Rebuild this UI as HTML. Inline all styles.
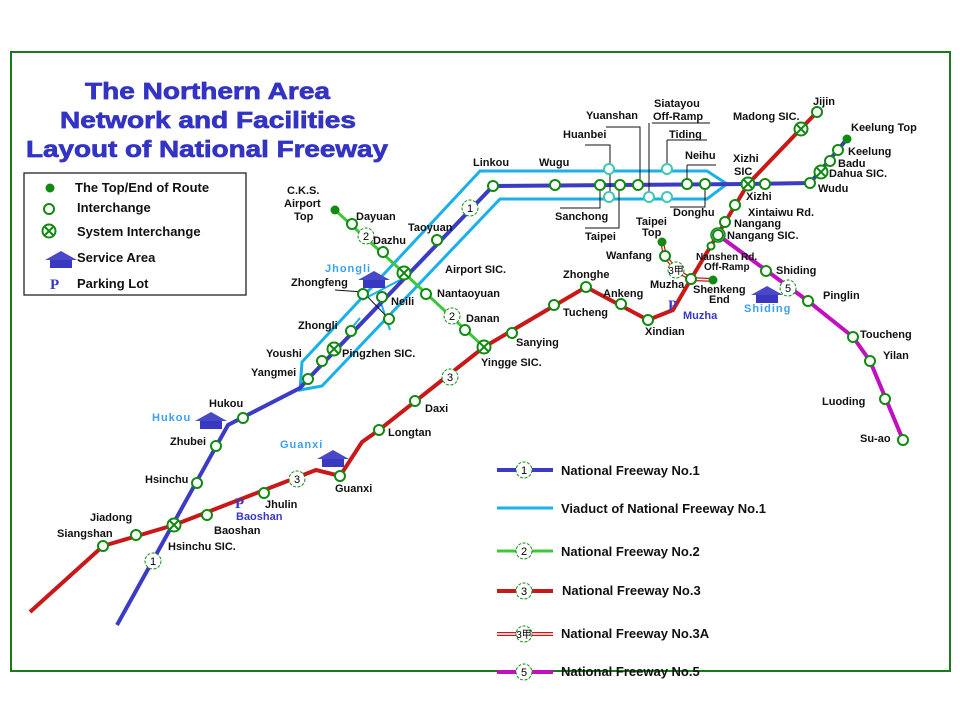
<!DOCTYPE html>
<html><head><meta charset="utf-8"><style>
html,body{margin:0;padding:0;background:#fff;}
svg{display:block;font-family:"Liberation Sans",Arial,sans-serif;}
.l{font-size:11px;font-weight:bold;fill:#111;}
.s{font-size:11px;font-weight:bold;fill:#3aa0f0;letter-spacing:1px;}
.p{font-size:11px;font-weight:bold;fill:#3838c8;}
.t{font-size:23px;font-weight:bold;fill:#3333c4;stroke:#3333c4;stroke-width:0.7;}
.g{font-size:13px;font-weight:bold;fill:#111;}
</style></head><body>
<svg width="960" height="720" viewBox="0 0 960 720" xmlns="http://www.w3.org/2000/svg">
<defs>
<g id="n"><circle r="5" fill="#fff" stroke="#108a10" stroke-width="2"/></g>
<g id="cn"><circle r="5" fill="#fff" stroke="#40c8b0" stroke-width="2"/></g>
<g id="x"><circle r="6.5" fill="#fff" stroke="#108a10" stroke-width="2"/><path d="M-4.5,-4.5L4.5,4.5M4.5,-4.5L-4.5,4.5" stroke="#108a10" stroke-width="2"/></g>
<g id="e"><circle r="4.5" fill="#108a10"/></g>
<g id="sh"><circle r="8" fill="#fff" stroke="#108a10" stroke-width="1" stroke-dasharray="3,1.5"/></g>
<g id="sa"><polygon points="-16,0 0,-9 16,0" fill="#4848c8"/><rect x="-11" y="0" width="22" height="8" fill="#3838c0"/></g>
</defs>
<rect x="11" y="52" width="939" height="619" fill="none" stroke="#1a7a1a" stroke-width="2"/>
<text class="t" x="85" y="99" textLength="245" lengthAdjust="spacingAndGlyphs">The Northern Area</text>
<text class="t" x="60" y="128" textLength="296" lengthAdjust="spacingAndGlyphs">Network and Facilities</text>
<text class="t" x="26" y="157" textLength="362" lengthAdjust="spacingAndGlyphs">Layout of National Freeway</text>

<rect x="24" y="173" width="222" height="122" fill="none" stroke="#111" stroke-width="1.2"/>
<use href="#e" x="50" y="188"/><text class="g" x="75" y="192">The Top/End of Route</text>
<use href="#n" x="49" y="209"/><text class="g" x="77" y="212">Interchange</text>
<use href="#x" x="49" y="231"/><text class="g" x="77" y="236">System Interchange</text>
<use href="#sa" x="61" y="260"/><text class="g" x="77" y="262">Service Area</text>
<text x="50" y="289" font-family="Liberation Serif" font-size="15" font-weight="bold" fill="#3838c8">P</text><text class="g" x="77" y="288">Parking Lot</text>

<polygon points="300,390 302,362 480,171 707,171 727,184 707,199 500,199 322,386" fill="none" stroke="#1ab0e8" stroke-width="3"/>
<path d="M350,330 L360,318 M362,300 L400,280 M380,300 L390,330" stroke="#1ab0e8" stroke-width="2" fill="none"/>
<polyline points="117,625 228,425 300,388 308,379 493,186 748,184 810,183 847,139" fill="none" stroke="#3b3bc4" stroke-width="4"/>
<polyline points="335,210 404,273 484,347" fill="none" stroke="#3cc83c" stroke-width="3"/>
<polyline points="30,612 103,546 174,525 316,470 340,476 362,442 379,430 484,347 586,287 648,320 673,310 691,279 748,184 817,112" fill="none" stroke="#c81818" stroke-width="4"/>
<polyline points="662,242 665,256 676,270 691,279 713,280" fill="none" stroke="#c81818" stroke-width="4"/>
<polyline points="662,242 665,256 676,270 691,279 713,280" fill="none" stroke="#fff" stroke-width="1.5"/>
<polyline points="718,235 808,301 853,337 870,361 903,440" fill="none" stroke="#c010c0" stroke-width="4"/>

<g stroke="#111" stroke-width="1" fill="none">
<path d="M585,145 L610,145 L610,195"/><path d="M606,127 L640,127 L640,183"/><path d="M652,123 L710,123 M649,123 L649,195"/>
<path d="M667,140 L707,140 M667,140 L667,167"/><path d="M687,165 L716,165 M687,165 L687,182"/>
<path d="M600,187 L600,208 L560,208"/><path d="M619,187 L619,228 L585,228"/><path d="M705,186 L705,207 L670,207"/>
<path d="M335,290 L363,292 L389,319"/>
</g>

<use href="#cn" x="609" y="169"/><use href="#cn" x="667" y="169"/>
<use href="#cn" x="609" y="197"/><use href="#cn" x="649" y="197"/><use href="#cn" x="667" y="197"/>
<use href="#n" x="493" y="186"/><use href="#n" x="555" y="185"/><use href="#n" x="600" y="185"/><use href="#n" x="620" y="185"/><use href="#n" x="638" y="185"/><use href="#n" x="687" y="184"/><use href="#n" x="705" y="184"/><use href="#x" x="748" y="184"/><use href="#n" x="765" y="184"/><use href="#n" x="810" y="183"/><use href="#x" x="821" y="172"/><use href="#n" x="830" y="161"/><use href="#n" x="838" y="150"/><use href="#e" x="847" y="139"/>
<use href="#n" x="437" y="240"/><use href="#n" x="382" y="297"/><use href="#n" x="363" y="294"/><use href="#n" x="389" y="319"/><use href="#n" x="351" y="331"/><use href="#x" x="334" y="349"/><use href="#n" x="322" y="361"/><use href="#n" x="308" y="379"/>
<use href="#n" x="243" y="418"/><use href="#n" x="216" y="446"/><use href="#n" x="197" y="483"/><use href="#x" x="174" y="525"/>
<use href="#sh" x="153" y="561"/><text x="153" y="565" font-size="11" text-anchor="middle">1</text>
<use href="#sh" x="470" y="208"/><text x="470" y="212" font-size="11" text-anchor="middle">1</text>
<use href="#e" x="335" y="210"/><use href="#n" x="352" y="224"/><use href="#sh" x="366" y="236"/><text x="366" y="240" font-size="11" text-anchor="middle">2</text><use href="#n" x="383" y="252"/><use href="#x" x="404" y="273"/><use href="#n" x="426" y="294"/><use href="#sh" x="452" y="316"/><text x="452" y="320" font-size="11" text-anchor="middle">2</text><use href="#n" x="465" y="330"/><use href="#x" x="484" y="347"/>
<use href="#n" x="103" y="546"/><use href="#n" x="136" y="535"/><use href="#n" x="207" y="515"/><use href="#n" x="264" y="493"/><use href="#sh" x="297" y="479"/><text x="297" y="483" font-size="11" text-anchor="middle">3</text><use href="#n" x="340" y="476"/><use href="#n" x="379" y="430"/><use href="#n" x="415" y="401"/><use href="#sh" x="450" y="377"/><text x="450" y="381" font-size="11" text-anchor="middle">3</text><use href="#n" x="512" y="333"/><use href="#n" x="554" y="305"/><use href="#n" x="586" y="287"/><use href="#n" x="621" y="304"/><use href="#n" x="648" y="320"/><use href="#n" x="691" y="279"/><circle cx="711" cy="246" r="3.5" fill="#fff" stroke="#108a10" stroke-width="2"/><circle cx="718" cy="235" r="7" fill="#fff" stroke="#108a10" stroke-width="1.5"/><use href="#n" x="718" y="235"/><use href="#n" x="725" y="222"/><use href="#n" x="735" y="205"/><use href="#x" x="801" y="129"/><use href="#n" x="817" y="112"/>
<use href="#e" x="662" y="242"/><use href="#n" x="665" y="256"/><use href="#sh" x="676" y="270"/><text x="676" y="274" font-size="10" text-anchor="middle">3甲</text><use href="#e" x="713" y="280"/>
<use href="#n" x="766" y="271"/><use href="#sh" x="788" y="288"/><text x="788" y="292" font-size="11" text-anchor="middle">5</text><use href="#n" x="808" y="301"/><use href="#n" x="853" y="337"/><use href="#n" x="870" y="361"/><use href="#n" x="885" y="399"/><use href="#n" x="903" y="440"/>

<use href="#sa" x="374" y="280"/><text class="s" x="325" y="272">Jhongli</text>
<use href="#sa" x="211" y="421"/><text class="s" x="152" y="421">Hukou</text>
<use href="#sa" x="333" y="459"/><text class="s" x="280" y="448">Guanxi</text>
<use href="#sa" x="767" y="295"/><text class="s" x="744" y="312">Shiding</text>
<text x="235" y="508" font-family="Liberation Serif" font-size="15" font-weight="bold" fill="#3838c8">P</text><text class="p" x="236" y="520">Baoshan</text>
<text x="668" y="310" font-family="Liberation Serif" font-size="15" font-weight="bold" fill="#3838c8">P</text><text class="p" x="683" y="319">Muzha</text>

<g class="l">
<text x="473" y="166">Linkou</text><text x="539" y="166">Wugu</text><text x="563" y="138">Huanbei</text><text x="586" y="119">Yuanshan</text>
<text x="654" y="107">Siatayou</text><text x="653" y="120">Off-Ramp</text><text x="669" y="138">Tiding</text><text x="685" y="159">Neihu</text>
<text x="555" y="220">Sanchong</text><text x="585" y="240">Taipei</text><text x="673" y="216">Donghu</text>
<text x="733" y="162">Xizhi</text><text x="734" y="175">SIC</text><text x="746" y="200">Xizhi</text><text x="748" y="216">Xintaiwu Rd.</text><text x="734" y="227">Nangang</text><text x="727" y="239">Nangang SIC.</text>
<text x="733" y="120">Madong SIC.</text><text x="813" y="105">Jijin</text><text x="851" y="131">Keelung Top</text><text x="848" y="155">Keelung</text><text x="838" y="167">Badu</text><text x="829" y="177">Dahua SIC.</text><text x="818" y="192">Wudu</text>
<text x="636" y="225">Taipei</text><text x="642" y="236">Top</text><text x="606" y="259">Wanfang</text><text x="696" y="260" font-size="10">Nanshen Rd.</text><text x="704" y="270" font-size="10">Off-Ramp</text>
<text x="650" y="288">Muzha</text><text x="693" y="293">Shenkeng</text><text x="709" y="303">End</text>
<text x="776" y="274">Shiding</text><text x="823" y="299">Pinglin</text><text x="860" y="338">Toucheng</text><text x="883" y="359">Yilan</text><text x="822" y="405">Luoding</text><text x="860" y="442">Su-ao</text>
<text x="563" y="278">Zhonghe</text><text x="603" y="297">Ankeng</text><text x="563" y="316">Tucheng</text><text x="645" y="335">Xindian</text><text x="516" y="346">Sanying</text><text x="481" y="366">Yingge SIC.</text>
<text x="445" y="273">Airport SIC.</text><text x="437" y="297">Nantaoyuan</text><text x="466" y="322">Danan</text>
<text x="408" y="231">Taoyuan</text><text x="287" y="194">C.K.S.</text><text x="284" y="207">Airport</text><text x="294" y="220">Top</text><text x="356" y="220">Dayuan</text><text x="373" y="244">Dazhu</text>
<text x="291" y="286">Zhongfeng</text><text x="391" y="305">Neili</text><text x="298" y="329">Zhongli</text><text x="342" y="357">Pingzhen SIC.</text><text x="266" y="357">Youshi</text><text x="251" y="376">Yangmei</text>
<text x="209" y="407">Hukou</text><text x="170" y="445">Zhubei</text><text x="145" y="483">Hsinchu</text><text x="90" y="521">Jiadong</text><text x="57" y="537">Siangshan</text><text x="168" y="550">Hsinchu SIC.</text><text x="214" y="534">Baoshan</text><text x="265" y="508">Jhulin</text><text x="335" y="492">Guanxi</text><text x="388" y="436">Longtan</text><text x="425" y="412">Daxi</text>
</g>

<g>
<line x1="497" y1="470" x2="553" y2="470" stroke="#3b3bc4" stroke-width="4"/><use href="#sh" x="524" y="470"/><text x="524" y="474" font-size="11" text-anchor="middle">1</text><text class="g" x="561" y="475">National Freeway No.1</text>
<line x1="497" y1="508" x2="553" y2="508" stroke="#1ab0e8" stroke-width="3"/><text class="g" x="561" y="513">Viaduct of National Freeway No.1</text>
<line x1="497" y1="551" x2="553" y2="551" stroke="#3cc83c" stroke-width="3"/><use href="#sh" x="524" y="551"/><text x="524" y="555" font-size="11" text-anchor="middle">2</text><text class="g" x="561" y="556">National Freeway No.2</text>
<line x1="497" y1="591" x2="553" y2="591" stroke="#c81818" stroke-width="4"/><use href="#sh" x="524" y="591"/><text x="524" y="595" font-size="11" text-anchor="middle">3</text><text class="g" x="562" y="595">National Freeway No.3</text>
<line x1="497" y1="634" x2="553" y2="634" stroke="#c81818" stroke-width="4"/><line x1="497" y1="634" x2="553" y2="634" stroke="#fff" stroke-width="1.5"/><use href="#sh" x="524" y="634"/><text x="524" y="638" font-size="10" text-anchor="middle">3甲</text><text class="g" x="561" y="638">National Freeway No.3A</text>
<line x1="497" y1="672" x2="553" y2="672" stroke="#c010c0" stroke-width="4"/><use href="#sh" x="524" y="672"/><text x="524" y="676" font-size="11" text-anchor="middle">5</text><text class="g" x="561" y="676">National Freeway No.5</text>
</g>
</svg>
</body></html>
